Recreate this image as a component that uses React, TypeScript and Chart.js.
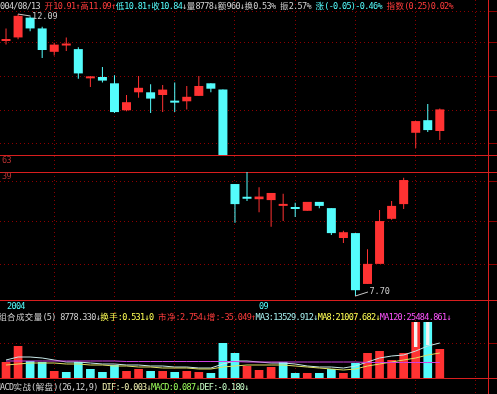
import React, { useEffect, useRef } from "react";
import { Chart, registerables } from "chart.js";

Chart.register(...registerables);

// ================= DATA =================
// day slots (x positions are category indices, placed by the linear x scale)
const dayIndex = [0,1,2,3,4,5,6,7,8,9,10,11,12,13,14,15,16,17,18,19,20,21,22,23,24,25,26,27,28,29,30,31,32,33,34,35,36];

// candles shown in the upper price band
const topIdx = [0,1,2,3,4,5,6,7,8,9,10,11,12,13,14,15,16,17,18,34,35,36];
const topOpen  = [11.79,11.83,12.05,11.93,11.67,11.74,11.70,11.375,11.39,11.32,11.02,11.22,11.22,11.19,11.115,11.12,11.18,11.32,11.25,10.77,10.91,10.79];
const topHigh  = [11.93,12.09,12.06,11.95,11.77,11.83,11.72,11.40,11.50,11.41,11.19,11.40,11.31,11.30,11.33,11.29,11.40,11.32,11.25,10.90,11.09,11.04];
const topLow   = [11.75,11.81,11.90,11.60,11.63,11.68,11.37,11.28,11.33,10.99,11.01,11.16,10.99,11.00,11.00,11.03,11.18,11.22,10.15,10.60,10.78,10.69];
const topClose = [11.81,12.07,11.93,11.69,11.75,11.755,11.43,11.385,11.35,11.00,11.11,11.27,11.15,11.25,11.105,11.17,11.29,11.26,10.20,10.90,10.80,11.03];

// candles shown in the lower price band
const lowIdx = [19,20,21,22,23,24,25,26,27,28,29,30,31,32,33];
const lowOpen  = [10.21,9.92,9.87,9.85,9.72,9.68,9.61,9.81,9.67,9.00,9.11,7.97,8.42,9.43,9.76];
const lowHigh  = [10.21,10.50,10.14,10.01,9.99,9.79,9.81,9.81,9.67,9.16,9.11,8.75,9.63,9.83,10.35];
const lowLow   = [9.34,9.83,9.58,9.25,9.38,9.47,9.61,9.67,9.07,8.89,7.70,7.97,8.42,9.41,9.65];
const lowClose = [9.76,9.88,9.93,10.01,9.76,9.65,9.81,9.72,9.11,9.13,7.83,8.42,9.38,9.72,10.30];

// volume (bars) and its moving-average lines
const volume = [16000,32000,17000,16000,7000,6000,16000,9000,6000,13000,7000,9000,7000,7000,6000,7000,6000,5000,35000,25000,12000,8000,11000,16000,5000,5000,5000,9000,5000,15000,25000,27000,18000,25000,60000,62000,29000];
const volUp  = [1,1,0,0,1,0,0,0,0,0,1,1,0,1,0,1,1,0,0,0,1,1,1,0,0,1,0,0,1,0,1,1,1,1,1,0,1];
const ma3    = [18000,21000,21000,20000,18000,16000,16000,15000,14000,14000,13000,13000,12000,12000,11000,11000,10000,10000,14000,17000,17000,16000,15000,15000,14000,12000,11000,11000,10000,12000,16000,20000,22000,23000,27000,32000,35000];
const ma8    = [13000,14000,15000,15000,15000,14000,14000,13000,13000,12000,12000,11000,11000,10000,10000,10000,9000,9000,11000,12000,13000,13000,13000,13000,12000,11000,10000,9000,8000,9000,12000,14000,16000,18000,20000,23000,25000];
const ma120  = [17000,17000,17000,17000,17000,17000,17000,17000,17000,17000,16500,16500,16500,16500,16500,16500,16500,16500,16500,16500,16000,16000,16000,16000,16000,16000,16000,16000,16000,16000,15500,15500,15500,15500,15500,15500,15500];
// white marks inside the two bars that run past the top of the volume band
const peakIdx  = [34, 35];
const peakFrom = [31000, 33000];
const peakTo   = [60000, 62000];

// axis ranges and grid tick values
const xRange = [-0.5, 40];
const xGridDays = [4,9,14,19,24,29,34,39];
const topRange = [10.523, 12.246];
const topGridPrices = [12.12, 11.77, 11.40, 11.02, 10.65];
const lowRange = [7.61, 10.48];
const lowGridPrices = [10.26, 9.36, 8.40];
const volRange = [0, 56000];
const volGridValues = [35000];

// text
const headerSegs = [
  { t: "2004/08/13 ", c: "#d0d0d0" },
  { t: "开10.91↑高11.09↑", c: "#ff3c3c" },
  { t: "低10.81↑收10.84", c: "#54fcfc" },
  { t: "↓量8778↓额960↓换0.53% 振2.57% ", c: "#d0d0d0" },
  { t: "涨(-0.05)-0.46% ", c: "#54fcfc" },
  { t: "指数(0.25)0.02%", c: "#ff3c3c" },
];
const volSegs = [
  { t: "组合成交量(5) 8778.330↓", c: "#d0d0d0" },
  { t: "换手:0.531↓0 ", c: "#ffff54" },
  { t: "市净:2.754↓增:-35.049↑", c: "#ff3c3c" },
  { t: "MA3:13529.912↓", c: "#a8f0f0" },
  { t: "MA8:21007.682↓", c: "#ffff54" },
  { t: "MA120:25484.861↓", c: "#ff54ff" },
];
const macdSegs = [
  { t: "MACD实战(解盘)(26,12,9) ", c: "#d0d0d0" },
  { t: "DIF:-0.003↓", c: "#f0f0b0" },
  { t: "MACD:0.087↓", c: "#9cff5c" },
  { t: "DEF:-0.180↓", c: "#c8ffc8" },
];

// ================= STYLE / LAYOUT =================
const W = 497, H = 394;
const BAND = { top: 155, gapA: 17, low: 128, gapB: 22, vol: 56, gapC: 16 };
const UP = "#ff3232";
const DOWN = "#54fcfc";
const GRID_DOT = "#8c0000";
const RED_LINE = "#d81e1e";
const U = 4.44;
const FS = 8.5;
const LATIN_FONT = '"DejaVu Sans Mono", "Liberation Mono", monospace';
const CJK_FONT = '"Noto Sans CJK SC", sans-serif';

const isWide = (ch: string) => /[\u2E80-\u9FFF\uF900-\uFAFF\uFF00-\uFFEF]/.test(ch);

function renderChars(t: string) {
  const out: any[] = [];
  let buf = "";
  for (const ch of Array.from(t)) {
    if (isWide(ch)) {
      if (buf) { out.push(buf); buf = ""; }
      out.push(
        <span key={out.length} style={{ display: "inline-block", width: 2 * U, fontFamily: CJK_FONT, fontSize: FS, letterSpacing: 0, textAlign: "center" }}>{ch}</span>
      );
    } else buf += ch;
  }
  if (buf) out.push(buf);
  return out;
}

function TextLine({ segs, left, top }: { segs: { t: string; c: string }[]; left: number; top: number }) {
  return (
    <div style={{ position: "absolute", left, top, whiteSpace: "pre", fontFamily: LATIN_FONT, fontSize: FS, lineHeight: "9px", letterSpacing: U - 0.602 * FS }}>
      {segs.map((s, i) => (<span key={i} style={{ color: s.c }}>{renderChars(s.t)}</span>))}
    </div>
  );
}

function Label({ text, left, top, color }: { text: string; left: number; top: number; color: string }) {
  return (
    <div style={{ position: "absolute", left, top, whiteSpace: "pre", fontFamily: LATIN_FONT, fontSize: FS, lineHeight: "9px", color, letterSpacing: U - 0.602 * FS }}>{text}</div>
  );
}

function candleSets(idx: number[], O: number[], Hh: number[], L: number[], C: number[], yAxisID: string) {
  const colors = idx.map((_, k) => (C[k] >= O[k] ? UP : DOWN));
  return [
    {
      type: "bar", yAxisID, order: 3, grouped: false,
      data: idx.map((x, k) => ({ x, y: [L[k], Hh[k]] })),
      backgroundColor: colors, borderWidth: 0,
      barPercentage: 0.083, categoryPercentage: 1, maxBarThickness: 1,
    },
    {
      type: "bar", yAxisID, order: 2, grouped: false,
      data: idx.map((x, k) => ({ x, y: [Math.min(O[k], C[k]), Math.max(O[k], C[k])] })),
      backgroundColor: colors, borderWidth: 0, minBarLength: 2,
      barPercentage: 0.75, categoryPercentage: 1, maxBarThickness: 9,
    },
  ];
}

const setTicks = (vals: number[]) => (scale: any) => { scale.ticks = vals.map((v) => ({ value: v })); };

function yAxis(weight: number, stackWeight: number, min: number, max: number, ticks: number[], color: string, dashed: boolean) {
  return {
    type: "linear", position: "right", stack: "panels", stackWeight, weight,
    min, max, beginAtZero: false, offset: false,
    ticks: { display: false },
    grid: { color, lineWidth: 1, drawTicks: true, tickLength: 9, tickColor: color, tickWidth: 1 },
    border: { display: false, dash: dashed ? [1, 3] : [] },
    afterBuildTicks: setTicks(ticks),
  };
}

const extremesPlugin = {
  id: "extremes",
  afterDatasetsDraw(chart: any) {
    const ctx = chart.ctx;
    const xs = chart.scales.x, yT = chart.scales.yTop, yL = chart.scales.yLow;
    let hi = 0;
    topHigh.forEach((h, i) => { if (h > topHigh[hi]) hi = i; });
    let lo = 0;
    lowLow.forEach((l, i) => { if (l < lowLow[lo]) lo = i; });
    ctx.save();
    ctx.strokeStyle = "#c8c8c8";
    ctx.fillStyle = "#c8c8c8";
    ctx.lineWidth = 1;
    ctx.font = '8.5px "DejaVu Sans Mono"';
    ctx.textBaseline = "middle";
    ctx.textAlign = "left";
    const hx = xs.getPixelForValue(topIdx[hi]), hy = yT.getPixelForValue(topHigh[hi]);
    ctx.beginPath(); ctx.moveTo(hx, hy); ctx.lineTo(hx + 12.5, hy + 2); ctx.stroke();
    ctx.fillText(topHigh[hi].toFixed(2), hx + 14, hy + 2.5);
    const lx = xs.getPixelForValue(lowIdx[lo]), ly = yL.getPixelForValue(lowLow[lo]);
    ctx.beginPath(); ctx.moveTo(lx, ly); ctx.lineTo(lx + 12.5, ly - 4); ctx.stroke();
    ctx.fillText(lowLow[lo].toFixed(2), lx + 14, ly - 4.5);
    ctx.restore();
  },
};

export default function App() {
  const ref = useRef<HTMLCanvasElement | null>(null);

  useEffect(() => {
    document.body.style.margin = "0";
    document.body.style.background = "#000";
    const canvas = ref.current;
    if (!canvas) return;

    const datasets: any[] = [
      ...candleSets(topIdx, topOpen, topHigh, topLow, topClose, "yTop"),
      ...candleSets(lowIdx, lowOpen, lowHigh, lowLow, lowClose, "yLow"),
      {
        type: "bar", yAxisID: "yVol", order: 5, grouped: false,
        data: dayIndex.map((x, i) => ({ x, y: [0, volume[i]] })),
        backgroundColor: volUp.map((u) => (u ? UP : DOWN)), borderWidth: 0,
        barPercentage: 0.72, categoryPercentage: 1, maxBarThickness: 9,
      },
      {
        type: "bar", yAxisID: "yVol", order: 4, grouped: false,
        data: peakIdx.map((x, k) => ({ x, y: [peakFrom[k], peakTo[k]] })),
        backgroundColor: "#f4f4f4", borderWidth: 0,
        barPercentage: 0.28, categoryPercentage: 1, maxBarThickness: 3.5,
      },
      { type: "line", yAxisID: "yVol", order: 1, data: dayIndex.map((x, i) => ({ x, y: ma120[i] })), borderColor: "#d040e0", borderWidth: 1, pointRadius: 0, tension: 0 },
      { type: "line", yAxisID: "yVol", order: 1, data: dayIndex.map((x, i) => ({ x, y: ma8[i] })), borderColor: "#e0e060", borderWidth: 1, pointRadius: 0, tension: 0 },
      { type: "line", yAxisID: "yVol", order: 1, data: dayIndex.map((x, i) => ({ x, y: ma3[i] })), borderColor: "#c8e8e8", borderWidth: 1, pointRadius: 0, tension: 0 },
    ];

    const chart = new Chart(canvas, {
      type: "bar",
      data: { datasets },
      options: {
        responsive: false,
        maintainAspectRatio: false,
        animation: false,
        events: [],
        layout: { padding: 0 },
        plugins: { legend: { display: false }, tooltip: { enabled: false }, title: { display: false } },
        scales: {
          x: {
            type: "linear", min: xRange[0], max: xRange[1], offset: false,
            ticks: { display: false },
            grid: { color: GRID_DOT, lineWidth: 1, drawTicks: false, offset: false },
            border: { display: false, dash: [1, 3] },
            afterBuildTicks: setTicks(xGridDays),
          },
          yTop: yAxis(1, BAND.top, topRange[0], topRange[1], topGridPrices, GRID_DOT, true),
          yGapA: yAxis(2, BAND.gapA, 0, 1, [0, 1], RED_LINE, false),
          yLow: yAxis(3, BAND.low, lowRange[0], lowRange[1], lowGridPrices, GRID_DOT, true),
          yGapB: yAxis(4, BAND.gapB, 0, 1, [1], RED_LINE, false),
          yVol: yAxis(5, BAND.vol, volRange[0], volRange[1], volGridValues, GRID_DOT, true),
          yGapC: yAxis(6, BAND.gapC, 0, 1, [1], RED_LINE, false),
        } as any,
      } as any,
      plugins: [extremesPlugin],
    } as any);

    return () => chart.destroy();
  }, []);

  return (
    <div style={{ position: "fixed", left: 0, top: 0, width: W, height: H, background: "#000", overflow: "hidden" }}>
      <canvas ref={ref} width={W} height={H} style={{ position: "absolute", left: 0, top: 0, width: W, height: H }} />
      <div style={{ position: "absolute", left: 488, top: 0, width: 1, height: H, background: RED_LINE }} />
      <TextLine segs={headerSegs} left={-U} top={1} />
      <Label text="63" left={2} top={156} color="#b03030" />
      <Label text="39" left={2} top={172} color="#b03030" />
      <Label text="2004" left={7} top={302} color="#54fcfc" />
      <Label text="09" left={259} top={302} color="#54fcfc" />
      <TextLine segs={volSegs} left={-2} top={312} />
      <TextLine segs={macdSegs} left={-U} top={382} />
    </div>
  );
}
